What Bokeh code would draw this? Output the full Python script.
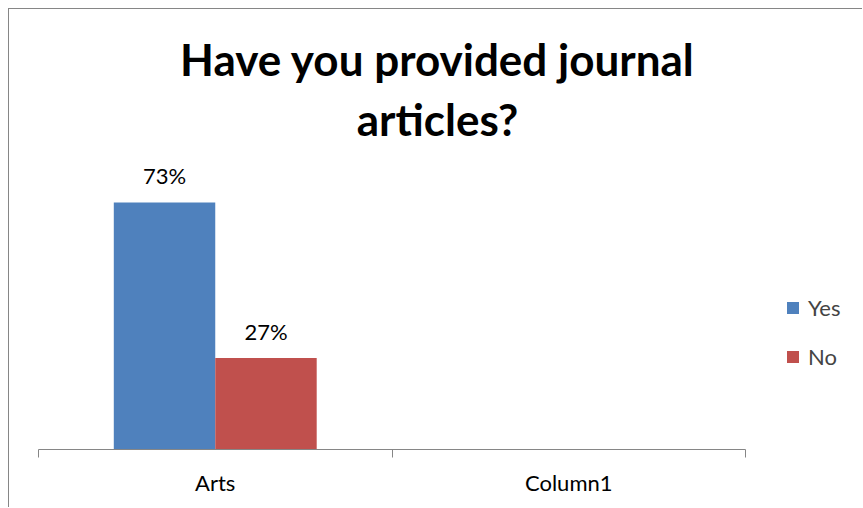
from bokeh.plotting import figure
from bokeh.models import (Range1d, FixedTicker, LinearAxis, ColumnDataSource,
                          LabelSet, Label, Legend, LegendItem)
from bokeh.core.properties import value
from bokeh.transform import dodge
from bokeh.embed import file_html
from bokeh.resources import INLINE
import math

# ---- data ----
categories = ["Arts", "Column1"]
series = ["Yes", "No"]
yes_values = [0.73, float("nan")]
no_values = [0.27, float("nan")]
colors = ["#4F81BD", "#C0504D"]
title_lines = ["Have you provided journal", "articles?"]

FONT = "Lato"
GREY = "#868686"

xc = [i + 0.5 for i in range(len(categories))]

def pct(vals):
    return ["" if (v is None or math.isnan(v)) else f"{round(v*100)}%" for v in vals]

n = len(categories)
p = figure(width=854, height=499,
           x_range=Range1d(0, n * 825 / 707), y_range=Range1d(0, 1.2999),
           output_backend="svg", toolbar_location=None,
           x_axis_type=None, y_axis_type=None,
           min_border_left=29, min_border_right=0,
           min_border_top=0, min_border_bottom=59)
p.outline_line_color = None
p.background_fill_color = "white"
p.border_fill_color = "white"
p.styles = {"margin-left": "8px", "margin-top": "8px",
            "border-left": f"1px solid {GREY}", "border-top": f"1px solid {GREY}"}

axis = LinearAxis(
    ticker=FixedTicker(ticks=xc, minor_ticks=list(range(n + 1))),
    major_label_overrides={x: c for x, c in zip(xc, categories)},
    bounds=(0, n),
    axis_line_color=GREY,
    major_tick_line_color=None, major_tick_in=0, major_tick_out=0,
    minor_tick_line_color=GREY, minor_tick_in=0, minor_tick_out=8,
    major_label_standoff=11,
    major_label_text_font=FONT, major_label_text_font_size="22px",
    major_label_text_color="black",
)
p.add_layout(axis, "below")

bar_w = 0.287
offs = [-bar_w / 2, bar_w / 2]
renderers = []
for vals, col, off in zip([yes_values, no_values], colors, offs):
    src = ColumnDataSource(dict(x=xc, top=vals, label=pct(vals)))
    r = p.vbar(x=dodge("x", off, range=p.x_range), top="top", width=bar_w,
               bottom=0, fill_color=col, line_color=None, source=src)
    renderers.append(r)
    p.add_layout(LabelSet(x=dodge("x", off, range=p.x_range), y="top", text="label",
                          source=src, y_offset=18, text_align="center",
                          text_baseline="alphabetic", text_font=value(FONT),
                          text_font_size=value("22px"), text_color="black"))

for txt, ty in zip(title_lines, [1.1551, 0.9778]):
    p.add_layout(Label(x=1.1287, y=ty, text=txt, text_align="center",
                       text_baseline="alphabetic", text_font=FONT,
                       text_font_size="44px", text_font_style="bold",
                       text_color="black"))

legend = Legend(items=[LegendItem(label=s, renderers=[r]) for s, r in zip(series, renderers)],
                location=(747, 79), orientation="vertical",
                glyph_width=15, glyph_height=15, label_text_font=FONT,
                label_text_font_size="22px", label_standoff=8, spacing=22,
                padding=0, margin=0, border_line_color=None,
                background_fill_alpha=0)
p.add_layout(legend, "center")

open("out.html", "w").write(file_html(p, INLINE))
